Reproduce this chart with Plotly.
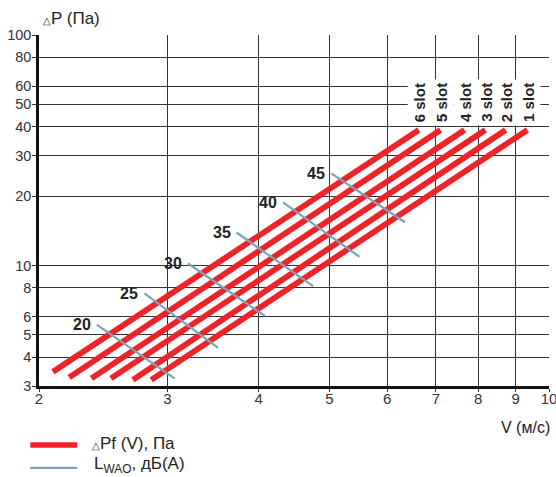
import math
import plotly.graph_objects as go

# ---- data ----
slot_names = ["6 slot", "5 slot", "4 slot", "3 slot", "2 slot", "1 slot"]
slot_v_start = [2.09, 2.20, 2.36, 2.51, 2.69, 2.85]
slot_dp_start = [3.46, 3.27, 3.24, 3.24, 3.19, 3.19]
slot_v_end = [6.63, 7.10, 7.66, 8.18, 8.72, 9.34]
slot_dp_end = [38.7, 38.7, 38.7, 38.7, 38.7, 38.7]

noise_levels = [20, 25, 30, 35, 40, 45]
noise_v_start = [2.40, 2.79, 3.20, 3.73, 4.32, 5.03]
noise_dp_start = [5.54, 7.56, 10.2, 13.9, 18.8, 25.1]
noise_v_end = [3.07, 3.52, 4.08, 4.75, 5.50, 6.35]
noise_dp_end = [3.23, 4.39, 6.04, 8.13, 10.9, 15.4]

x_ticks = [2, 3, 4, 5, 6, 7, 8, 9, 10]
y_ticks = [3, 4, 5, 6, 8, 10, 20, 30, 40, 50, 60, 80, 100]

RED = "#ee2229"
BLUE = "#7ba3b6"
GRID = "#333333"
TXT = "#222222"
FONT = "Liberation Sans, Arial, sans-serif"

fig = go.Figure()

for i, name in enumerate(slot_names):
    fig.add_trace(go.Scatter(
        x=[slot_v_start[i], slot_v_end[i]],
        y=[slot_dp_start[i], slot_dp_end[i]],
        mode="lines", line=dict(color=RED, width=5.8),
        name=name, showlegend=False, hoverinfo="skip"))

for i, lvl in enumerate(noise_levels):
    fig.add_trace(go.Scatter(
        x=[noise_v_start[i], noise_v_end[i]],
        y=[noise_dp_start[i], noise_dp_end[i]],
        mode="lines", line=dict(color=BLUE, width=2.2),
        name=str(lvl), showlegend=False, hoverinfo="skip"))

annotations = []
for i, name in enumerate(slot_names):
    annotations.append(dict(
        x=math.log10(slot_v_end[i]), y=math.log10(slot_dp_end[i]),
        xref="x", yref="y", text=name, showarrow=False, textangle=-90,
        xanchor="center", yanchor="bottom", xshift=1, yshift=4,
        bgcolor="white", borderpad=3,
        font=dict(family=FONT, size=15, color=TXT, weight="bold")))

for i, lvl in enumerate(noise_levels):
    annotations.append(dict(
        x=math.log10(noise_v_start[i]), y=math.log10(noise_dp_start[i]),
        xref="x", yref="y", text=str(lvl), showarrow=False,
        xanchor="right", yanchor="middle", xshift=-4,
        font=dict(family=FONT, size=16, color=TXT, weight="bold")))

# axis titles
annotations.append(dict(
    x=0.004, y=1.048, xref="paper", yref="paper", showarrow=False,
    xanchor="left", yanchor="middle",
    text="<span style='font-size:10px'>△</span>P (Па)",
    font=dict(family=FONT, size=17, color=TXT)))
annotations.append(dict(
    x=1.006, y=-0.117, xref="paper", yref="paper", showarrow=False,
    xanchor="right", yanchor="middle", text="V (м/с)",
    font=dict(family=FONT, size=16, color=TXT)))

# legend texts
annotations.append(dict(
    x=0.100, y=-0.163, xref="paper", yref="paper", showarrow=False,
    xanchor="left", yanchor="middle",
    text="<span style='font-size:10px'>△</span>Pf (V), Па",
    font=dict(family=FONT, size=17, color=TXT)))
annotations.append(dict(
    x=0.103, y=-0.226, xref="paper", yref="paper", showarrow=False,
    xanchor="left", yanchor="middle",
    text="L<sub>WAO</sub>, дБ(А)",
    font=dict(family=FONT, size=17, color=TXT)))

shapes = [
    dict(type="line", xref="paper", yref="paper", x0=-0.017, x1=0.075,
         y0=-0.168, y1=-0.168, line=dict(color=RED, width=5.5)),
    dict(type="line", xref="paper", yref="paper", x0=-0.017, x1=0.075,
         y0=-0.233, y1=-0.233, line=dict(color=BLUE, width=2.2)),
]

fig.update_layout(
    width=556, height=477,
    margin=dict(l=39, r=7, t=35, b=91),
    paper_bgcolor="white", plot_bgcolor="white",
    font=dict(family=FONT, size=15, color=TXT),
    annotations=annotations, shapes=shapes,
    showlegend=False,
)

fig.update_xaxes(
    type="log", range=[math.log10(2), math.log10(10)],
    tickvals=x_ticks, ticktext=[str(t) for t in x_ticks],
    showgrid=True, gridcolor=GRID, gridwidth=1.2,
    showline=True, linecolor="#111111", linewidth=2.5,
    ticks="outside", ticklen=3, tickcolor=GRID,
    ticklabeloverflow="allow", automargin=False, ticklabelstandoff=-6,
    tickfont=dict(size=15, color="#333333"), zeroline=False)

fig.update_yaxes(
    type="log", range=[math.log10(3), 2],
    tickvals=y_ticks, ticktext=[str(t) for t in y_ticks],
    showgrid=True, gridcolor=GRID, gridwidth=1.2,
    showline=True, linecolor="#111111", linewidth=2.5,
    ticks="outside", ticklen=4, tickcolor=GRID,
    ticklabeloverflow="allow", automargin=False, ticklabelstandoff=-2,
    tickfont=dict(size=14.5, color="#333333"), zeroline=False)

# remove the default page margin and scrollbars so the figure fills the window
fig.write_html(
    "out.html",
    config={"displayModeBar": False},
    post_script="document.body.style.margin='0';document.body.style.overflow='hidden';",
)
